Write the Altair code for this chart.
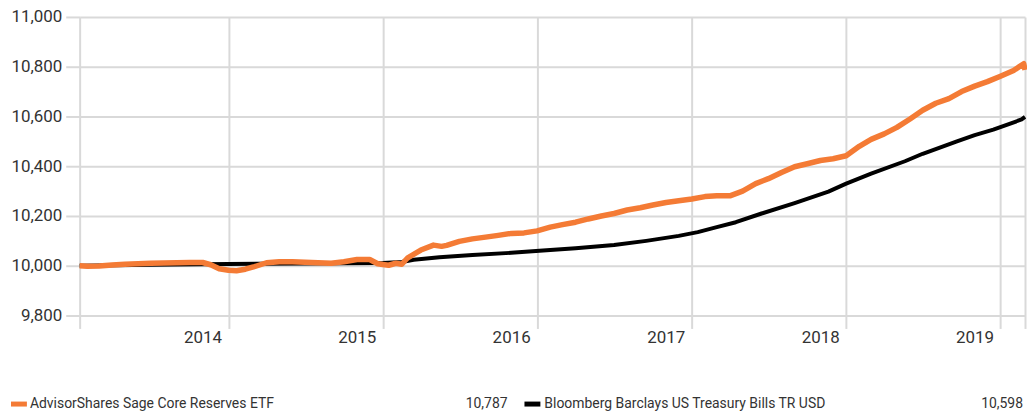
import altair as alt
import pandas as pd

# ---- data ----
series_names = ["AdvisorShares Sage Core Reserves ETF",
                "Bloomberg Barclays US Treasury Bills TR USD"]
series_colors = ["#F47B35", "#000000"]

fund_dates = ["2013-01-14", "2013-02-01", "2013-03-01", "2013-04-01", "2013-05-01", "2013-06-01",
              "2013-07-01", "2013-08-01", "2013-09-01", "2013-10-01", "2013-11-01", "2013-11-20",
              "2013-12-10", "2014-01-01", "2014-01-20", "2014-02-10", "2014-03-01", "2014-04-01",
              "2014-05-01", "2014-06-01", "2014-07-01", "2014-08-01", "2014-09-01", "2014-10-01",
              "2014-11-01", "2014-12-01", "2014-12-20", "2015-01-01", "2015-01-15", "2015-02-01",
              "2015-02-15", "2015-03-01", "2015-04-01", "2015-05-01", "2015-05-20", "2015-06-01",
              "2015-07-01", "2015-08-01", "2015-09-01", "2015-10-01", "2015-11-01", "2015-12-01",
              "2016-01-01", "2016-02-01", "2016-03-01", "2016-04-01", "2016-05-01", "2016-06-01",
              "2016-07-01", "2016-08-01", "2016-09-01", "2016-10-01", "2016-11-01", "2016-12-01",
              "2017-01-01", "2017-02-01", "2017-03-01", "2017-04-01", "2017-05-01", "2017-06-01",
              "2017-07-01", "2017-08-01", "2017-09-01", "2017-10-01", "2017-11-01", "2017-12-01",
              "2018-01-01", "2018-02-01", "2018-03-01", "2018-04-01", "2018-05-01", "2018-06-01",
              "2018-07-01", "2018-08-01", "2018-09-01", "2018-10-01", "2018-11-01", "2018-12-01",
              "2019-01-01", "2019-02-01", "2019-02-25", "2019-02-28"]
fund_values = [10000, 9998, 9999, 10003, 10006, 10008,
               10010, 10011, 10012, 10013, 10013, 10004,
               9988, 9982, 9980, 9986, 9995, 10012,
               10016, 10016, 10014, 10012, 10010, 10016,
               10025, 10025, 10008, 10005, 10002, 10010,
               10006, 10032, 10063, 10083, 10078, 10082,
               10098, 10108, 10115, 10122, 10130, 10132,
               10140, 10155, 10165, 10175, 10188, 10200,
               10210, 10224, 10233, 10244, 10254, 10261,
               10268, 10278, 10281, 10281, 10300, 10330,
               10350, 10375, 10398, 10410, 10423, 10430,
               10442, 10480, 10508, 10530, 10556, 10590,
               10625, 10653, 10672, 10700, 10722, 10740,
               10762, 10785, 10812, 10787]

bench_dates = ["2013-01-14", "2013-07-01", "2014-01-01", "2014-07-01", "2015-01-01", "2015-02-15",
               "2015-03-15", "2015-05-15", "2015-08-01", "2015-11-01", "2016-01-15", "2016-04-01",
               "2016-07-01", "2016-09-15", "2016-12-01", "2017-01-15", "2017-03-01", "2017-04-15",
               "2017-06-15", "2017-09-01", "2017-11-20", "2018-01-01", "2018-03-01", "2018-05-20",
               "2018-07-01", "2018-09-20", "2018-11-01", "2018-12-15", "2019-02-20", "2019-02-28"]
bench_values = [10000, 10004, 10007, 10009, 10011, 10015,
                10024, 10034, 10043, 10052, 10061, 10070,
                10083, 10100, 10120, 10135, 10155, 10175,
                10210, 10252, 10298, 10330, 10370, 10420,
                10450, 10500, 10525, 10547, 10588, 10598]

y_ticks = [9800, 10000, 10200, 10400, 10600, 10800, 11000]
x_tick_dates = [(2013, 1, 14), (2014, 1, 1), (2015, 1, 1), (2016, 1, 1), (2017, 1, 1),
                (2018, 1, 1), (2019, 1, 1), (2019, 2, 28)]

# ---- build tables ----
fund_df = pd.DataFrame({"date": fund_dates, "value": fund_values, "series": series_names[0]})
bench_df = pd.DataFrame({"date": bench_dates, "value": bench_values, "series": series_names[1]})

FONT = "Roboto"
GRID = "#d9d9d9"
TXT = "#333333"

dt = lambda t: alt.DateTime(year=t[0], month=t[1], date=t[2], utc=True)

x_enc = alt.X("date:T",
              scale=alt.Scale(type="utc", domain=[dt(x_tick_dates[0]), dt(x_tick_dates[-1])]),
              axis=alt.Axis(title=None, values=[dt(t) for t in x_tick_dates],
                            labelExpr="utcmonth(datum.value)==0 && utcdate(datum.value)==1 ? utcFormat(datum.value, '%Y') : ''",
                            grid=True, gridColor=GRID, gridWidth=2,
                            ticks=True, tickColor=GRID, tickWidth=2, tickSize=13,
                            domain=False, labelAlign="right", labelOffset=-7,
                            labelPadding=1, labelBaseline="top",
                            labelFont=FONT, labelFontSize=17, labelColor=TXT))
y_enc = alt.Y("value:Q",
              scale=alt.Scale(domain=[y_ticks[0], y_ticks[-1]], nice=False, zero=False),
              axis=alt.Axis(title=None, values=y_ticks, format=",.0f",
                            grid=True, gridColor=GRID, gridWidth=2,
                            ticks=True, tickColor=GRID, tickWidth=2, tickSize=14,
                            domain=False, labelPadding=4,
                            labelFont=FONT, labelFontSize=17, labelColor=TXT))

bench_line = alt.Chart(bench_df).mark_line(color=series_colors[1], strokeWidth=4,
                                           strokeJoin="round").encode(x=x_enc, y=y_enc)
fund_line = alt.Chart(fund_df).mark_line(color=series_colors[0], strokeWidth=5.5,
                                         strokeJoin="round").encode(x=x_enc, y=y_enc)

# ---- legend below plot ----
def legend_entry(i, sw_x, text_x, val_x, last):
    d = pd.DataFrame({"name": [series_names[i]], "last": [f"{last:,}"]})
    base = alt.Chart(d)
    sw = base.mark_rule(color=series_colors[i], strokeWidth=5).encode(
        x=alt.value(sw_x), x2=alt.value(sw_x + 16), y=alt.value(389))
    nm = base.mark_text(align="left", baseline="middle", font=FONT, fontSize=14,
                        color=TXT).encode(x=alt.value(text_x), y=alt.value(389), text="name:N")
    vl = base.mark_text(align="right", baseline="middle", font=FONT, fontSize=14,
                        color=TXT).encode(x=alt.value(val_x), y=alt.value(389), text="last:N")
    return sw + nm + vl

leg1 = legend_entry(0, -69, -50, 430, fund_values[-1])
leg2 = legend_entry(1, 447, 467, 948, bench_values[-1])

chart = alt.layer(bench_line, fund_line, leg1, leg2).properties(
    width=950, height=300,
    autosize=alt.AutoSizeParams(type="none"),
    padding={"left": 72, "top": 8, "right": 2, "bottom": 100},
).configure_view(stroke=None)

chart.save("out.html", embed_options={"renderer": "svg", "actions": False})
